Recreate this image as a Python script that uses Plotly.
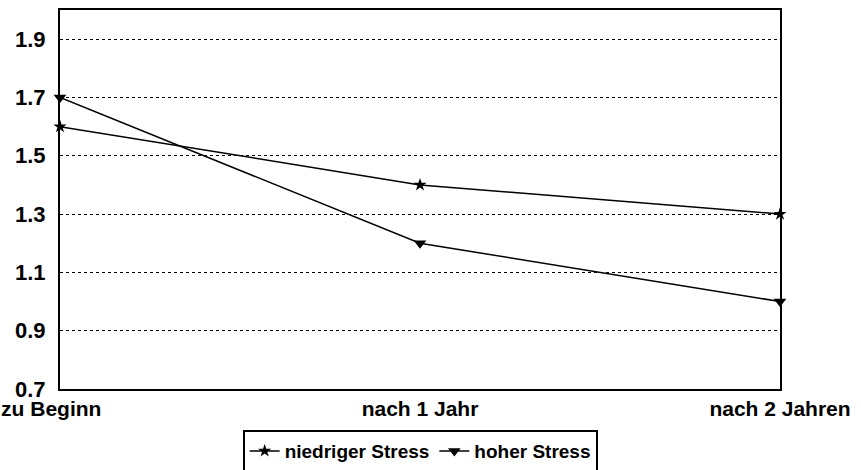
import plotly.graph_objects as go

categories = ["zu Beginn", "nach 1 Jahr", "nach 2 Jahren"]
tick_labels = ["zu Beginn\u00a0\u00a0\u00a0", "nach 1 Jahr", "nach 2 Jahren"]
niedriger = [1.6, 1.4, 1.3]
hoher = [1.7, 1.2, 1.0]
y_ticks = [0.7, 0.9, 1.1, 1.3, 1.5, 1.7, 1.9]

xpos = list(range(len(categories)))
fam = "Liberation Sans, Arial, sans-serif"
font = dict(family=fam, size=20, color="black", weight="bold")
lfont = dict(family=fam, size=19, color="black", weight="bold")
xfont = dict(family=fam, size=21, color="black", weight="bold")
yfont = dict(family=fam, size=22, color="black", weight="bold")

fig = go.Figure()
fig.add_trace(go.Scatter(
    x=xpos, y=niedriger, name="niedriger Stress", mode="lines+markers",
    line=dict(color="black", width=1.5),
    marker=dict(symbol="star", size=10, color="black"),
    cliponaxis=False,
))
fig.add_trace(go.Scatter(
    x=xpos, y=hoher, name="hoher Stress", mode="lines+markers",
    line=dict(color="black", width=1.5),
    marker=dict(symbol="triangle-down", size=11, color="black"),
    cliponaxis=False,
))

fig.update_layout(
    width=861, height=470, autosize=False,
    margin=dict(l=60, r=81, t=10, b=81),
    paper_bgcolor="white", plot_bgcolor="white",
    font=font,
    showlegend=True,
    legend=dict(
        orientation="h", xref="container", yref="container",
        x=0.488, xanchor="center", y=0.085, yanchor="top",
        bordercolor="black", borderwidth=2, bgcolor="white",
        font=lfont, itemwidth=30, tracegroupgap=0,
    ),
)
fig.update_xaxes(
    range=[0, 2], tickvals=xpos, ticktext=tick_labels,
    showgrid=False, zeroline=False, automargin=False,
    ticklabeloverflow="allow",
    showline=True, linecolor="black", linewidth=2, mirror=True,
    ticks="", tickfont=xfont,
)
fig.update_yaxes(
    range=[0.7, 2.0], tickvals=y_ticks, ticktext=[f"{v:.1f}" for v in y_ticks],
    showgrid=True, gridcolor="black", griddash="dot", gridwidth=1,
    zeroline=False, automargin=False,
    ticklabeloverflow="allow",
    showline=True, linecolor="black", linewidth=2, mirror=True,
    ticks="", tickfont=yfont, ticklabelstandoff=8,
)

fig.write_html(
    "out.html",
    config={"responsive": False, "displayModeBar": False},
    post_script="document.body.style.margin='0';document.body.style.overflow='hidden';",
)
